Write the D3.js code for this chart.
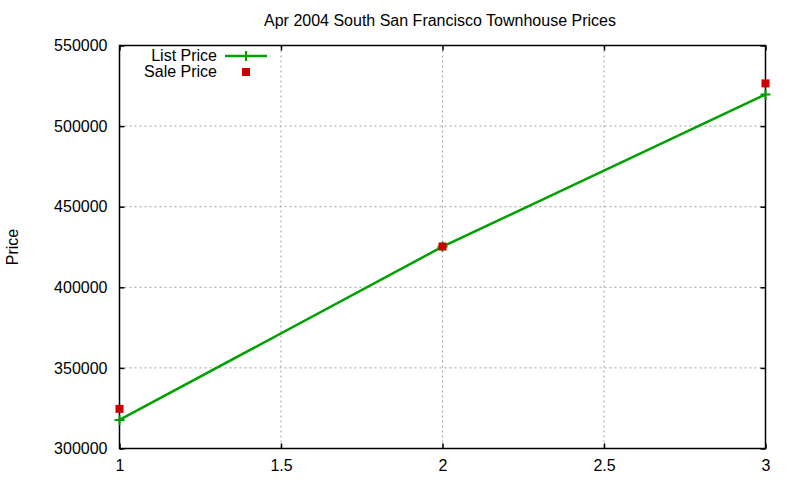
<!DOCTYPE html>
<html>
<head>
<meta charset="utf-8">
<script src="https://cdn.jsdelivr.net/npm/d3@7"></script>
<style>
  body { margin: 0; background: #fff; }
  text { font-family: "Liberation Sans", Arial, sans-serif; }
</style>
</head>
<body>
<div id="chart"></div>
<script>
// data
const xValues = [1, 2, 3];
const listPrice = [317700, 425200, 519600];
const salePrice = [324600, 425300, 526500];
const xTicks = [1, 1.5, 2, 2.5, 3];
const yTicks = [300000, 350000, 400000, 450000, 500000, 550000];

const width = 800;
const height = 480;
const margin = { top: 45.5, right: 34.5, bottom: 31.5, left: 119.5 };
const plotW = width - margin.left - margin.right;
const plotH = height - margin.top - margin.bottom;

const svg = d3.select("#chart")
  .append("svg")
  .attr("width", width)
  .attr("height", height);

const g = svg.append("g")
  .attr("transform", `translate(${margin.left}, ${margin.top})`);

const x = d3.scaleLinear().domain([1, 3]).range([0, plotW]);
const y = d3.scaleLinear().domain([300000, 550000]).range([plotH, 0]);

// grid
g.selectAll(".xgrid")
  .data(xTicks.slice(1, -1))
  .join("line")
  .attr("x1", d => x(d)).attr("x2", d => x(d))
  .attr("y1", 0).attr("y2", plotH)
  .attr("stroke", "#a0a0a0")
  .attr("stroke-dasharray", "2,3");

g.selectAll(".ygrid")
  .data(yTicks.slice(1, -1))
  .join("line")
  .attr("x1", 0).attr("x2", plotW)
  .attr("y1", d => y(d)).attr("y2", d => y(d))
  .attr("stroke", "#a0a0a0")
  .attr("stroke-dasharray", "2,3");

// axes: inward ticks, mirrored
const fmt = d3.format("d");
g.append("g")
  .attr("transform", `translate(0, ${plotH})`)
  .call(d3.axisBottom(x).tickValues(xTicks).tickSize(-5).tickPadding(11).tickFormat(d => d))
  .call(a => a.select(".domain").remove());
g.append("g")
  .call(d3.axisTop(x).tickValues(xTicks).tickSize(-5).tickFormat(""))
  .call(a => a.select(".domain").remove());
g.append("g")
  .call(d3.axisLeft(y).tickValues(yTicks).tickSize(-5).tickPadding(12).tickFormat(fmt))
  .call(a => a.select(".domain").remove());
g.append("g")
  .attr("transform", `translate(${plotW}, 0)`)
  .call(d3.axisRight(y).tickValues(yTicks).tickSize(-5).tickFormat(""))
  .call(a => a.select(".domain").remove());

g.selectAll(".tick text")
  .attr("font-size", 16)
  .attr("font-family", "Liberation Sans, Arial, sans-serif")
  .attr("fill", "#000");
g.selectAll(".tick line").attr("stroke", "#000").attr("stroke-width", 1.5);

g.append("rect")
  .attr("width", plotW)
  .attr("height", plotH)
  .attr("fill", "none")
  .attr("stroke", "#000")
  .attr("stroke-width", 1.5);

// list price line
const points = xValues.map((d, i) => ({ x: d, list: listPrice[i], sale: salePrice[i] }));
const line = d3.line().x(d => x(d.x)).y(d => y(d.list));

g.append("path")
  .datum(points)
  .attr("d", line)
  .attr("fill", "none")
  .attr("stroke", "#00a000")
  .attr("stroke-width", 2.5);

g.selectAll(".listpt")
  .data(points)
  .join("path")
  .attr("transform", d => `translate(${x(d.x)}, ${y(d.list)})`)
  .attr("d", "M-5,0H5M0,-5V5")
  .attr("stroke", "#00a000")
  .attr("stroke-width", 2);

// sale price squares
g.selectAll(".salept")
  .data(points)
  .join("rect")
  .attr("x", d => x(d.x) - 4)
  .attr("y", d => y(d.sale) - 4)
  .attr("width", 8)
  .attr("height", 8)
  .attr("fill", "#cc0000");

// legend
const legend = svg.append("g");
legend.append("text")
  .attr("x", 217).attr("y", 61)
  .attr("text-anchor", "end")
  .attr("font-size", 16)
  .text("List Price");
legend.append("line")
  .attr("x1", 225).attr("x2", 267)
  .attr("y1", 56).attr("y2", 56)
  .attr("stroke", "#00a000")
  .attr("stroke-width", 2.5);
legend.append("path")
  .attr("transform", "translate(246, 56)")
  .attr("d", "M-5,0H5M0,-5V5")
  .attr("stroke", "#00a000")
  .attr("stroke-width", 2);
legend.append("text")
  .attr("x", 217).attr("y", 77)
  .attr("text-anchor", "end")
  .attr("font-size", 16)
  .text("Sale Price");
legend.append("rect")
  .attr("x", 242).attr("y", 68)
  .attr("width", 8).attr("height", 8)
  .attr("fill", "#cc0000");

// title and axis label
svg.append("text")
  .attr("x", 440).attr("y", 26)
  .attr("text-anchor", "middle")
  .attr("font-size", 16)
  .text("Apr 2004 South San Francisco Townhouse Prices");

svg.append("text")
  .attr("transform", "translate(18, 247) rotate(-90)")
  .attr("text-anchor", "middle")
  .attr("font-size", 16)
  .text("Price");
</script>
</body>
</html>
